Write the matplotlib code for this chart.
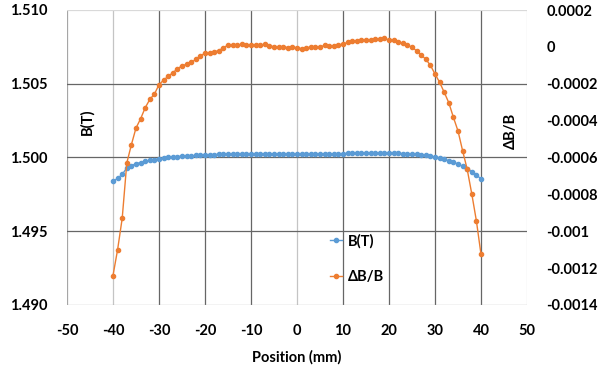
import matplotlib
matplotlib.use("Agg")
import matplotlib.pyplot as plt
from matplotlib.lines import Line2D

plt.rcParams['font.family'] = ['Lato', 'DejaVu Sans']
plt.rcParams['font.weight'] = 'bold'
plt.rcParams['font.size'] = 10
plt.rcParams['axes.unicode_minus'] = False

# Hall-probe scan across the magnet gap, 1 mm steps
position_mm = list(range(-40, 41))

field_T = [
    1.49838, 1.49859, 1.49885, 1.49930, 1.49945, 1.49958, 1.49966, 1.49975,
    1.49981, 1.49986, 1.49993, 1.49997, 1.50000, 1.50003, 1.50006, 1.50009,
    1.50010, 1.50011, 1.50014, 1.50017, 1.50019, 1.50019, 1.50020, 1.50021,
    1.50023, 1.50025, 1.50025, 1.50025, 1.50026, 1.50025, 1.50025, 1.50025,
    1.50025, 1.50026, 1.50025, 1.50024, 1.50024, 1.50024, 1.50023, 1.50024,
    1.50023, 1.50022, 1.50023, 1.50024, 1.50024, 1.50024, 1.50025, 1.50024,
    1.50025, 1.50026, 1.50026, 1.50028, 1.50029, 1.50029, 1.50029, 1.50030,
    1.50030, 1.50030, 1.50031, 1.50031, 1.50030, 1.50030, 1.50028, 1.50027,
    1.50025, 1.50024, 1.50021, 1.50017, 1.50014, 1.50009, 1.50002, 1.49995,
    1.49987, 1.49979, 1.49967, 1.49956, 1.49940, 1.49924, 1.49904, 1.49882,
    1.49855,
]

rel_dev = [
    -0.00124, -0.00110, -0.00093, -0.00063, -0.00053, -0.00044, -0.00039,
    -0.00033, -0.000285, -0.000256, -0.000205, -0.00018, -0.00016, -0.00014,
    -0.00012, -0.000102, -0.000095, -0.000084, -0.000068, -0.000048,
    -0.000035, -0.000035, -0.000026, -0.000021, -0.000004, 0.000009,
    0.000009, 0.000009, 0.000014, 0.000009, 0.00001, 0.000008, 0.00001,
    0.000014, 0.000007, 0.0, 0.0, 0.000001, -0.000004, -0.000002, -0.000004,
    -0.00001, -0.000007, 0.000001, 0.0, -0.000002, 0.000009, 0.000003,
    0.000005, 0.000012, 0.000014, 0.000025, 0.00003, 0.000032, 0.000036,
    0.000037, 0.000039, 0.000041, 0.000043, 0.000046, 0.000037, 0.000037,
    0.000028, 0.000019, 0.000009, -0.000002, -0.000021, -0.000044,
    -0.000067, -0.0001, -0.000147, -0.000192, -0.000246, -0.000303,
    -0.000382, -0.000456, -0.000563, -0.000664, -0.000798, -0.000944,
    -0.001125,
]

x_ticks = [-50, -40, -30, -20, -10, 0, 10, 20, 30, 40, 50]
left_ticks = [1.490, 1.495, 1.500, 1.505, 1.510]
right_ticks = [-0.0014, -0.0012, -0.001, -0.0008, -0.0006, -0.0004, -0.0002, 0, 0.0002]
right_labels = ['-0.0014', '-0.0012', '-0.001', '-0.0008', '-0.0006',
                '-0.0004', '-0.0002', '0', '0.0002']

BLUE = '#5B9BD5'
ORANGE = '#ED7D31'
FS = 10.5

fig = plt.figure(figsize=(5.98, 3.68), dpi=100)
ax = fig.add_axes([67/598, 1 - 305/368, 460/598, 295/368])
ax2 = ax.twinx()

ax.set_xlim(-50, 50)
ax.set_ylim(1.490, 1.510)
ax2.set_ylim(-0.0014, 0.0002)

# grid lines (drawn by hand so individual lines can differ in tone)
dark, light = '#666666', '#c4c4c4'
vcol = {-50: '#a6a6a6', -40: light, 0: light, 50: '#d9d9d9'}
for xv in x_ticks:
    ax.axvline(xv, color=vcol.get(xv, dark), lw=0.9, zorder=0)
hcol = {1.490: '#a6a6a6', 1.510: '#d9d9d9'}
for yv in left_ticks:
    ax.axhline(yv, color=hcol.get(yv, dark), lw=0.9, zorder=0)

for a in (ax, ax2):
    for s in a.spines.values():
        s.set_visible(False)

ax.set_xticks(x_ticks)
ax.set_xticklabels([str(v) for v in x_ticks])
ax.set_yticks(left_ticks)
ax.set_yticklabels([f'{v:.3f}' for v in left_ticks])
ax2.set_yticks(right_ticks)
ax2.set_yticklabels(right_labels)
ax.tick_params(axis='both', length=0, pad=14, labelsize=FS)
ax2.tick_params(axis='y', length=0, pad=14, labelsize=FS)

ax.plot(position_mm, field_T, color=BLUE, lw=1.0, marker='o', ms=3.0,
        mec=BLUE, mfc=BLUE, zorder=3)
ax2.plot(position_mm, rel_dev, color=ORANGE, lw=1.0, marker='o', ms=3.0,
         mec=ORANGE, mfc=ORANGE, zorder=3)

fig.text(87/598, 1 - 122/368, 'B(T)', rotation=90, ha='center', va='center',
         fontsize=FS, fontweight='bold')
fig.text(511/598, 1 - 131/368, 'ΔB/B', rotation=90, ha='center', va='center',
         fontsize=FS, fontweight='bold')
fig.text(297/598, 1 - 357/368, 'Position (mm)', ha='center', va='center',
         fontsize=FS, fontweight='bold')

handles = [
    Line2D([], [], color=BLUE, lw=1.0, marker='o', ms=3.0),
    Line2D([], [], color=ORANGE, lw=1.0, marker='o', ms=3.0),
]
fig.legend(handles, ['B(T)', 'ΔB/B'], loc='upper left',
           bbox_to_anchor=(330/598, 1 - 234/368), frameon=False,
           borderpad=0, borderaxespad=0, handlelength=0.85,
           handletextpad=0.35, labelspacing=1.45, markerscale=1.0,
           prop={'weight': 'bold', 'size': FS})

fig.savefig('out.png', dpi=100)
